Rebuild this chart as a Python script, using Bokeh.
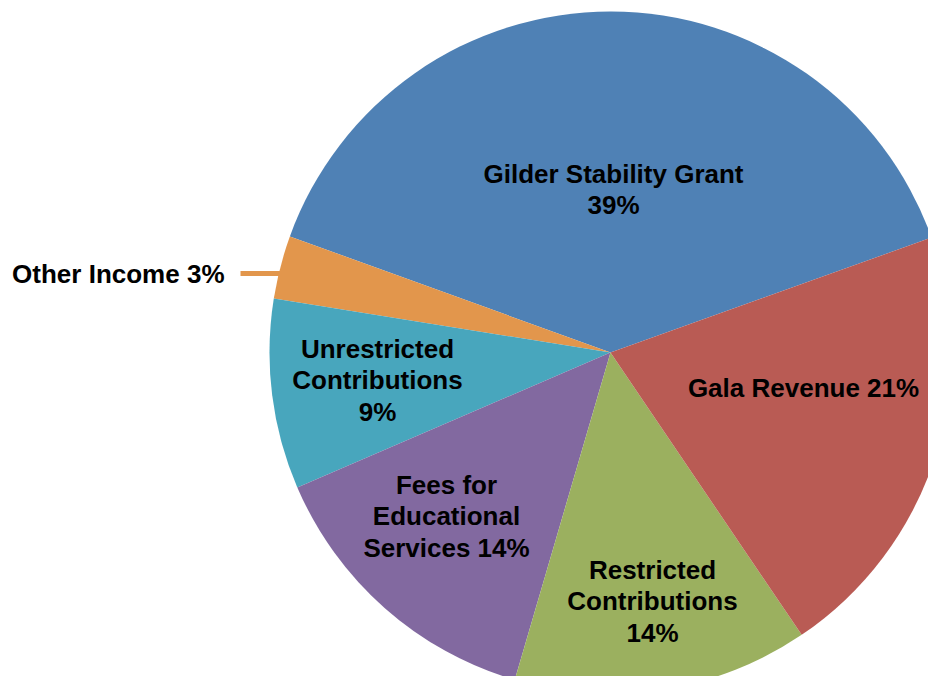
import math
from bokeh.plotting import figure
from bokeh.models import Range1d, ColumnDataSource
from bokeh.core.properties import value
from bokeh.embed import file_html
from bokeh.resources import INLINE

# ---- data ----
categories = ["Gilder Stability Grant", "Other Income", "Unrestricted Contributions",
              "Fees for Educational Services", "Restricted Contributions", "Gala Revenue"]
shares = [39, 3, 9, 14, 14, 21]
colors = ["#4F81B5", "#E2964C", "#48A6BD", "#8269A0", "#9BB05F", "#B95B54"]
label_texts = ["Gilder Stability Grant\n39%", "Other Income 3%", "Unrestricted\nContributions\n9%",
               "Fees for\nEducational\nServices 14%", "Restricted\nContributions\n14%", "Gala Revenue 21%"]

# ---- layout (screen-pixel coordinates, y downward) ----
W, H = 928, 676
cx, cy, R = 610, 352, 341
start_deg = 19.7
label_pos = [(613, 189), (224, 273), (377, 380), (446, 516), (652, 601), (803, 387)]

def Y(y_screen):
    return 692 - y_screen

total = float(sum(shares))
starts, ends = [], []
a = math.radians(start_deg)
for s in shares:
    starts.append(a)
    a += 2 * math.pi * s / total
    ends.append(a)

p = figure(width=W, height=H, output_backend="svg", toolbar_location=None,
           x_range=Range1d(0, W), y_range=Range1d(Y(H), Y(0)),
           min_border=0, outline_line_color=None)
p.axis.visible = False
p.grid.visible = False
p.background_fill_color = "white"
p.border_fill_color = "white"

src = ColumnDataSource(dict(cat=categories, start=starts, end=ends, color=colors))
p.wedge(x=cx, y=Y(cy), radius=R, radius_units="data", start_angle="start", end_angle="end",
        fill_color="color", line_color=None, source=src)

# leader line for Other Income
p.segment(x0=[240], y0=[Y(273)], x1=[282], y1=[Y(273)], line_color=colors[1], line_width=5)

lx = [pt[0] for pt in label_pos]
ly = [Y(pt[1]) for pt in label_pos]
aligns = ["center", "right", "center", "center", "center", "center"]
lsrc = ColumnDataSource(dict(x=lx, y=ly, t=label_texts, align=aligns))
p.text(x="x", y="y", text="t", source=lsrc, text_align="align", text_baseline="middle",
       text_font=value("Liberation Sans"), text_font_style="bold", text_font_size="26px",
       text_color="black", text_line_height=1.06)

open("out.html", "w").write(file_html(p, INLINE))
